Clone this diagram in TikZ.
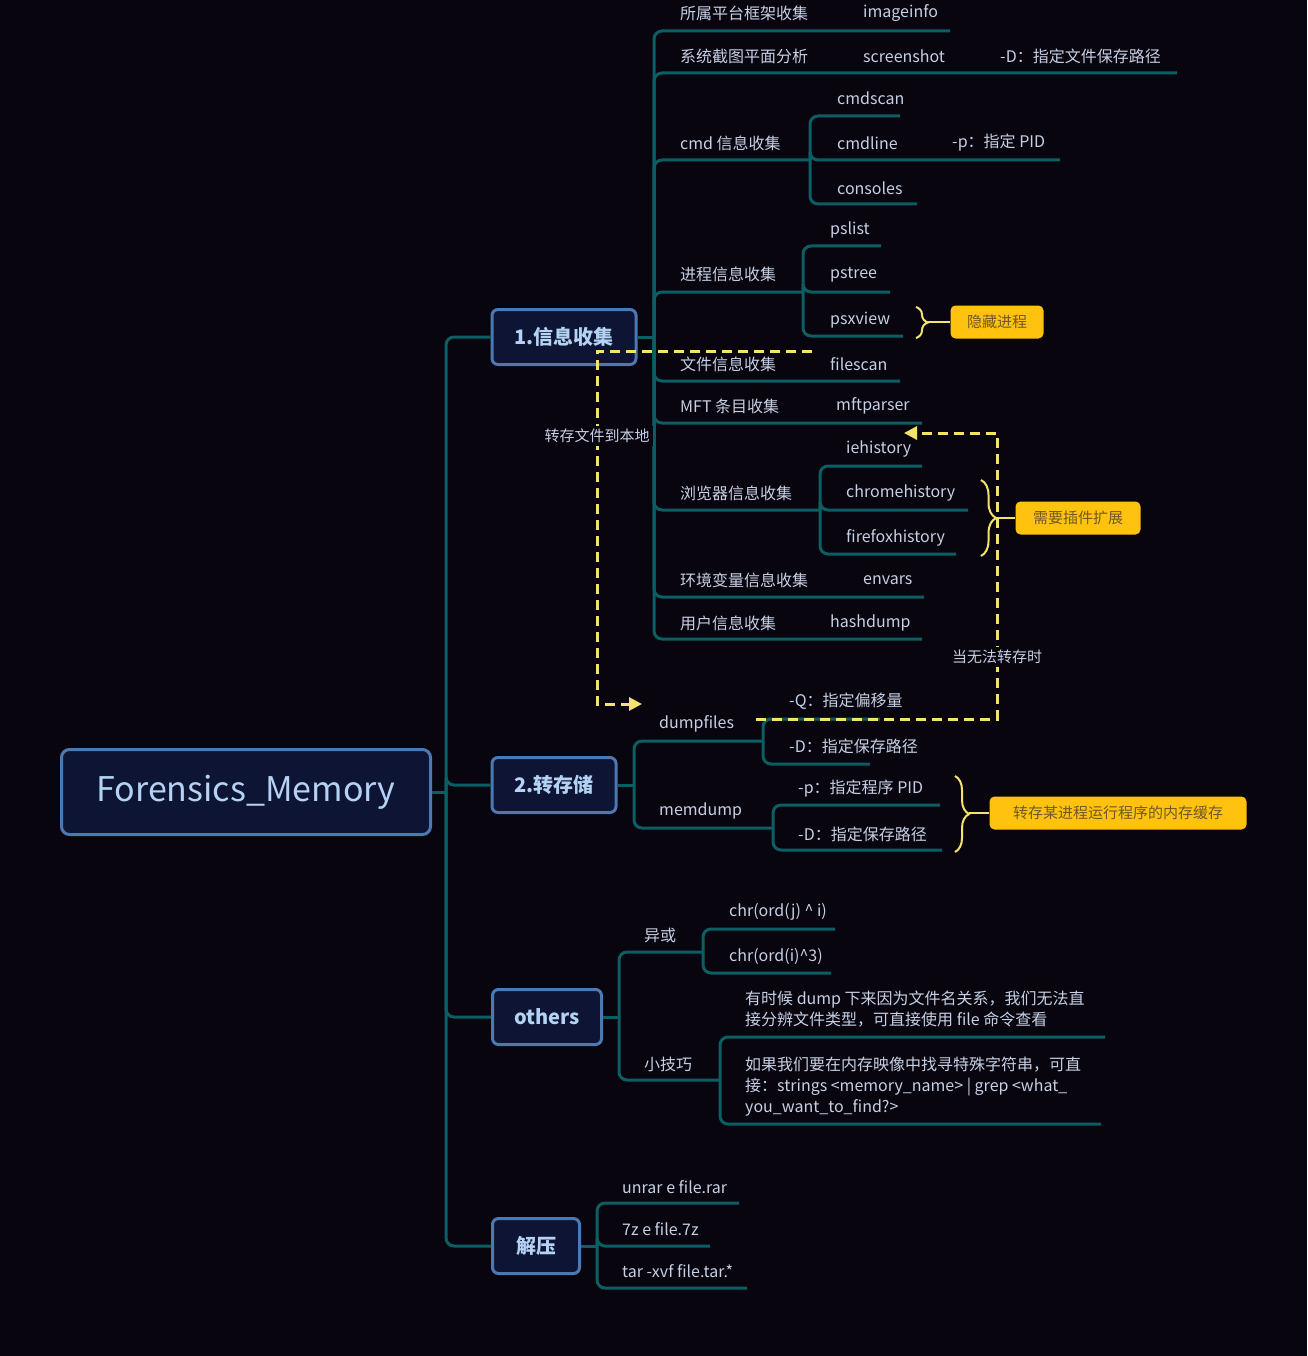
\documentclass[tikz,border=0pt]{standalone}
\usepackage{fontspec}
\setmainfont{Noto Sans CJK SC}
\usepackage{xcolor}
\usepackage{tikz}
\usetikzlibrary{arrows.meta, positioning, decorations.pathreplacing}

\definecolor{bgdark}{HTML}{09050F}
\definecolor{branchcol}{HTML}{0B5F63}
\definecolor{leafcol}{HTML}{C6D0E4}
\definecolor{topicfill}{HTML}{0E1434}
\definecolor{topicline}{HTML}{4C79B3}
\definecolor{topictext}{HTML}{B4D2F4}
\definecolor{tagfill}{HTML}{FFC20E}
\definecolor{tagtext}{HTML}{6E5A24}
\definecolor{flowcol}{HTML}{F3E36B}

\tikzset{
  branch/.style={draw=branchcol, line width=3pt, rounded corners=8pt},
  leaf/.style={anchor=west, text=leafcol, inner sep=0pt, font=\fontsize{16}{21}\selectfont},
  topic/.style={draw=topicline, fill=topicfill, line width=3pt, rounded corners=6pt,
    text=topictext, minimum height=55pt, font=\fontsize{20}{24}\selectfont\bfseries},
  tag/.style={fill=tagfill, rounded corners=5pt, text=tagtext, minimum height=33pt,
    font=\fontsize{15}{18}\selectfont},
  hint/.style={draw=flowcol, line width=2pt, decorate, decoration={brace, amplitude=#1}},
  flow/.style={draw=flowcol, line width=3pt, dash pattern=on 10pt off 6pt},
  note/.style={fill=bgdark, text=leafcol, inner sep=3pt, font=\fontsize{15}{18}\selectfont},
}

\begin{document}
\begin{tikzpicture}[x=1pt, y=-1pt]
    \useasboundingbox (0,0) rectangle (1307,1356);
    \fill[bgdark] (0,0) rectangle (1307,1356);

    % root and main topics
    \node[topic, minimum width=369pt, minimum height=85pt, rounded corners=8pt,
      font=\fontsize{34}{40}\selectfont] (root) at (246,792) {Forensics\_Memory};
    \node[topic, minimum width=144pt] (info) at (564,337) {1.信息收集};
    \node[topic, minimum width=124pt] (dump) at (554,785) {2.转存储};
    \node[topic, minimum width=109pt] (misc) at (547,1017) {others};
    \node[topic, minimum width=87pt] (unzip) at (536,1246) {解压};

    \coordinate (k0) at (446,785);
    \draw[branch] (root.east) -- (k0 |- root.east);
    \foreach \n in {info, dump, misc, unzip}
        \draw[branch] (k0) |- (\n.west);

    % 1. 信息收集
    \coordinate (k1) at (654,337);
    \draw[branch] (info.east) -- (k1);
    \foreach \y/\e in {31/950, 73/1177, 160/810, 292/803, 381/900, 423/922, 510/820, 597/924, 639/922}
        \draw[branch] (k1) |- (\e,\y);
    \coordinate (kc) at (810,160);
    \foreach \y/\e in {116/900, 160/1060, 204/917}
        \draw[branch] (kc) |- (\e,\y);
    \coordinate (kp) at (803,292);
    \foreach \y/\e in {246/881, 292/890, 336/903}
        \draw[branch] (kp) |- (\e,\y);
    \coordinate (kb) at (820,510);
    \foreach \y/\e in {466/922, 510/968, 554/956}
        \draw[branch] (kb) |- (\e,\y);

    \node[leaf] (plat) at (680,13) {所属平台框架收集};
    \node[leaf] (imginfo) at (863,13) {imageinfo};
    \node[leaf] (shot) at (680,56) {系统截图平面分析};
    \node[leaf] (scrshot) at (863,56) {screenshot};
    \node[leaf] (shotopt) at (1000,56) {-D：指定文件保存路径};
    \node[leaf] (cmd) at (680,143) {cmd 信息收集};
    \node[leaf] (cmdscan) at (837,98) {cmdscan};
    \node[leaf] (cmdline) at (837,143) {cmdline};
    \node[leaf] (cmdopt) at (952,143) {-p：指定 PID};
    \node[leaf] (consoles) at (837,188) {consoles};
    \node[leaf] (proc) at (680,274) {进程信息收集};
    \node[leaf] (pslist) at (830,230) {pslist};
    \node[leaf] (pstree) at (830,275) {pstree};
    \node[leaf] (psxview) at (830,320) {psxview};
    \node[leaf] (file) at (680,364) {文件信息收集};
    \node[leaf] (filescan) at (830,364) {filescan};
    \node[leaf] (mft) at (680,406) {MFT 条目收集};
    \node[leaf] (mftparser) at (836,406) {mftparser};
    \node[leaf] (browser) at (680,493) {浏览器信息收集};
    \node[leaf] (iehist) at (846,449) {iehistory};
    \node[leaf] (chromehist) at (846,493) {chromehistory};
    \node[leaf] (foxhist) at (846,538) {firefoxhistory};
    \node[leaf] (env) at (680,580) {环境变量信息收集};
    \node[leaf] (envars) at (863,580) {envars};
    \node[leaf] (user) at (680,623) {用户信息收集};
    \node[leaf] (hashdump) at (830,623) {hashdump};

    % 2. 转存储
    \coordinate (k2) at (634,785);
    \draw[branch] (dump.east) -- (k2);
    \foreach \y/\e in {741/763, 828/773}
        \draw[branch] (k2) |- (\e,\y);
    \coordinate (kd) at (763,741);
    \foreach \y/\e in {719/880, 764/870}
        \draw[branch] (kd) |- (\e,\y);
    \coordinate (km) at (773,828);
    \foreach \y/\e in {805/940, 850/942}
        \draw[branch] (km) |- (\e,\y);

    \node[leaf] (dumpfiles) at (659,724) {dumpfiles};
    \node[leaf] (dfq) at (789,701) {-Q：指定偏移量};
    \node[leaf] (dfd) at (789,746) {-D：指定保存路径};
    \node[leaf] (memdump) at (659,811) {memdump};
    \node[leaf] (mdp) at (798,789) {-p：指定程序 PID};
    \node[leaf] (mdd) at (798,834) {-D：指定保存路径};

    % others
    \coordinate (k3) at (619,1017);
    \draw[branch] (misc.east) -- (k3);
    \foreach \y/\e in {952/703, 1080/720}
        \draw[branch] (k3) |- (\e,\y);
    \coordinate (kx) at (703,952);
    \foreach \y/\e in {929/835, 973/831}
        \draw[branch] (kx) |- (\e,\y);
    \coordinate (kt) at (720,1080);
    \foreach \y/\e in {1037/1105, 1124/1101}
        \draw[branch] (kt) |- (\e,\y);

    \node[leaf] (xor) at (644,935) {异或};
    \node[leaf] (xor1) at (729,912) {chr(ord(j) \textasciicircum{} i)};
    \node[leaf] (xor2) at (729,957) {chr(ord(i)\textasciicircum{}3)};
    \node[leaf] (trick) at (644,1064) {小技巧};
    \node[leaf, anchor=north west, align=left] (trick1) at (745,991)
        {有时候 dump 下来因为文件名关系，我们无法直\\接分辨文件类型，可直接使用 file 命令查看};
    \node[leaf, anchor=north west, align=left] (trick2) at (745,1057)
        {如果我们要在内存映像中找寻特殊字符串，可直\\接：strings <memory\_name> | grep <what\_\\you\_want\_to\_find?>};

    % 解压
    \coordinate (k4) at (597,1246);
    \draw[branch] (unzip.east) -- (k4);
    \foreach \y/\e in {1203/739, 1246/710, 1288/747}
        \draw[branch] (k4) |- (\e,\y);
    \node[leaf] (unrar) at (622,1187) {unrar e file.rar};
    \node[leaf] (sevenz) at (622,1229) {7z e file.7z};
    \node[leaf] (tar) at (622,1271) {tar -xvf file.tar.*};

    % summaries
    \node[tag, minimum width=93pt] (hide) at (997,322) {隐藏进程};
    \node[tag, minimum width=125pt] (plugin) at (1078,518) {需要插件扩展};
    \node[tag, minimum width=257pt] (cache) at (1118,813) {转存某进程运行程序的内存缓存};
    \draw[hint=12pt] (916,307) -- (916,338);
    \coordinate (b1) at (928,322);
    \draw[flowcol, line width=2pt] (b1) -- (hide.west);
    \draw[hint=15pt] (981,480) -- (981,556);
    \coordinate (b2) at (996,518);
    \draw[flowcol, line width=2pt] (b2) -- (plugin.west);
    \draw[hint=14pt] (955,776) -- (955,852);
    \coordinate (b3) at (969,813);
    \draw[flowcol, line width=2pt] (b3) -- (cache.west);

    % dashed flows
    \coordinate (f1) at (812,351);
    \coordinate (f2) at (642,704);
    \draw[flow, -{Triangle[length=13pt, width=13pt]}] (f1) -- (597,351)
        -- (597,704) -- (f2);
    \node[note] (save) at (597,436) {转存文件到本地};
    \coordinate (f3) at (756,719);
    \coordinate (f4) at (904,433);
    \draw[flow, -{Triangle[length=13pt, width=13pt]}] (f3) -- (997,719)
        -- (997,433) -- (f4);
    \node[note] (fail) at (997,657) {当无法转存时};
\end{tikzpicture}
\end{document}
